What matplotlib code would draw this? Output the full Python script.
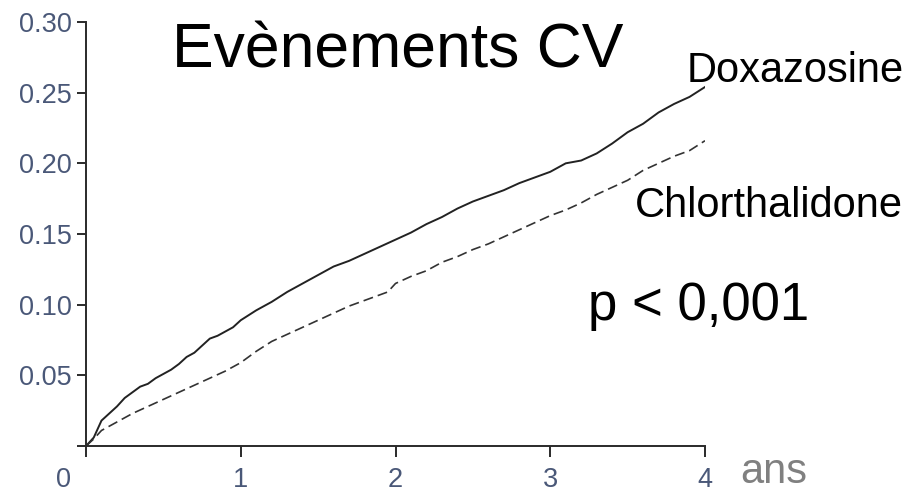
import matplotlib
matplotlib.use("Agg")
import matplotlib.pyplot as plt
from matplotlib.transforms import ScaledTranslation

plt.rcParams["font.family"] = ["Liberation Sans", "DejaVu Sans"]

# cumulative CV event rate, years of follow-up
years_doxa = [0.00, 0.05, 0.10, 0.15, 0.20, 0.25, 0.30, 0.35, 0.40, 0.45,
              0.50, 0.55, 0.60, 0.65, 0.70, 0.75, 0.80, 0.85, 0.90, 0.95,
              1.00, 1.10, 1.20, 1.30, 1.40, 1.50, 1.60, 1.70, 1.80, 1.90,
              2.00, 2.10, 2.20, 2.30, 2.40, 2.50, 2.60, 2.70, 2.80, 2.90,
              3.00, 3.10, 3.20, 3.30, 3.40, 3.50, 3.60, 3.70, 3.80, 3.90, 4.00]
rate_doxa = [0.000, 0.006, 0.018, 0.023, 0.028, 0.034, 0.038, 0.042, 0.044, 0.048,
             0.051, 0.054, 0.058, 0.063, 0.066, 0.071, 0.076, 0.078, 0.081, 0.084,
             0.089, 0.096, 0.102, 0.109, 0.115, 0.121, 0.127, 0.131, 0.136, 0.141,
             0.146, 0.151, 0.157, 0.162, 0.168, 0.173, 0.177, 0.181, 0.186, 0.190,
             0.194, 0.200, 0.202, 0.207, 0.214, 0.222, 0.228, 0.236, 0.242, 0.247, 0.254]

years_chlor = [0.00, 0.05, 0.10, 0.20, 0.30, 0.40, 0.50, 0.60, 0.70, 0.80,
               0.90, 1.00, 1.10, 1.20, 1.30, 1.40, 1.50, 1.60, 1.70, 1.80,
               1.90, 1.95, 2.00, 2.10, 2.20, 2.30, 2.40, 2.50, 2.60, 2.70,
               2.80, 2.90, 3.00, 3.10, 3.20, 3.30, 3.40, 3.50, 3.60, 3.70,
               3.80, 3.90, 4.00]
rate_chlor = [0.000, 0.005, 0.011, 0.017, 0.023, 0.028, 0.033, 0.038, 0.043, 0.048,
              0.053, 0.059, 0.067, 0.074, 0.079, 0.084, 0.089, 0.094, 0.099, 0.103,
              0.107, 0.109, 0.115, 0.120, 0.124, 0.130, 0.134, 0.139, 0.143, 0.148,
              0.153, 0.158, 0.163, 0.167, 0.172, 0.178, 0.183, 0.188, 0.195, 0.200,
              0.205, 0.209, 0.216]

x_ticks = [0, 1, 2, 3, 4]
y_ticks = [0.0, 0.05, 0.10, 0.15, 0.20, 0.25, 0.30]
y_labels = ["", "0.05", "0.10", "0.15", "0.20", "0.25", "0.30"]

tick_color = "#4a5878"
axis_color = "#2a2a2a"

fig = plt.figure(figsize=(9.2, 4.93), dpi=100)
ax = fig.add_axes([0.0935, 0.0953, 0.6728, 0.8601])

ax.plot(years_doxa, rate_doxa, color="#222222", linewidth=1.4, solid_joinstyle="round")
ax.plot(years_chlor, rate_chlor, color="#333333", linewidth=1.2, dashes=(6, 3))

ax.set_xlim(0, 4)
ax.set_ylim(0, 0.30)
for side in ["top", "right"]:
    ax.spines[side].set_visible(False)
for side in ["left", "bottom"]:
    ax.spines[side].set_linewidth(1.4)
    ax.spines[side].set_color(axis_color)

ax.set_xticks(x_ticks)
ax.set_xticklabels([str(v) for v in x_ticks])
ax.set_yticks(y_ticks)
ax.set_yticklabels(y_labels)
ax.tick_params(axis="x", direction="out", length=8, width=1.4, color=axis_color,
               labelsize=19.5, labelcolor=tick_color, pad=7)
ax.tick_params(axis="y", direction="out", length=6.5, width=1.4, color=axis_color,
               labelsize=19.5, labelcolor=tick_color, pad=4)

# origin label sits left of the corner
zero = ax.get_xticklabels()[0]
zero.set_transform(zero.get_transform() + ScaledTranslation(-0.23, 0, fig.dpi_scale_trans))

fig.text(172 / 920, 1 - 67 / 493, "Evènements CV", fontsize=45, va="baseline", ha="left")
fig.text(687 / 920, 1 - 82 / 493, "Doxazosine", fontsize=30, va="baseline", ha="left")
fig.text(635 / 920, 1 - 217 / 493, "Chlorthalidone", fontsize=30, va="baseline", ha="left")
fig.text(588 / 920, 1 - 320 / 493, "p < 0,001", fontsize=38, va="baseline", ha="left")
fig.text(740 / 920, 1 - 483 / 493, "ans", fontsize=30, va="baseline", ha="left", color="#808080")

fig.savefig("out.png", dpi=100)
